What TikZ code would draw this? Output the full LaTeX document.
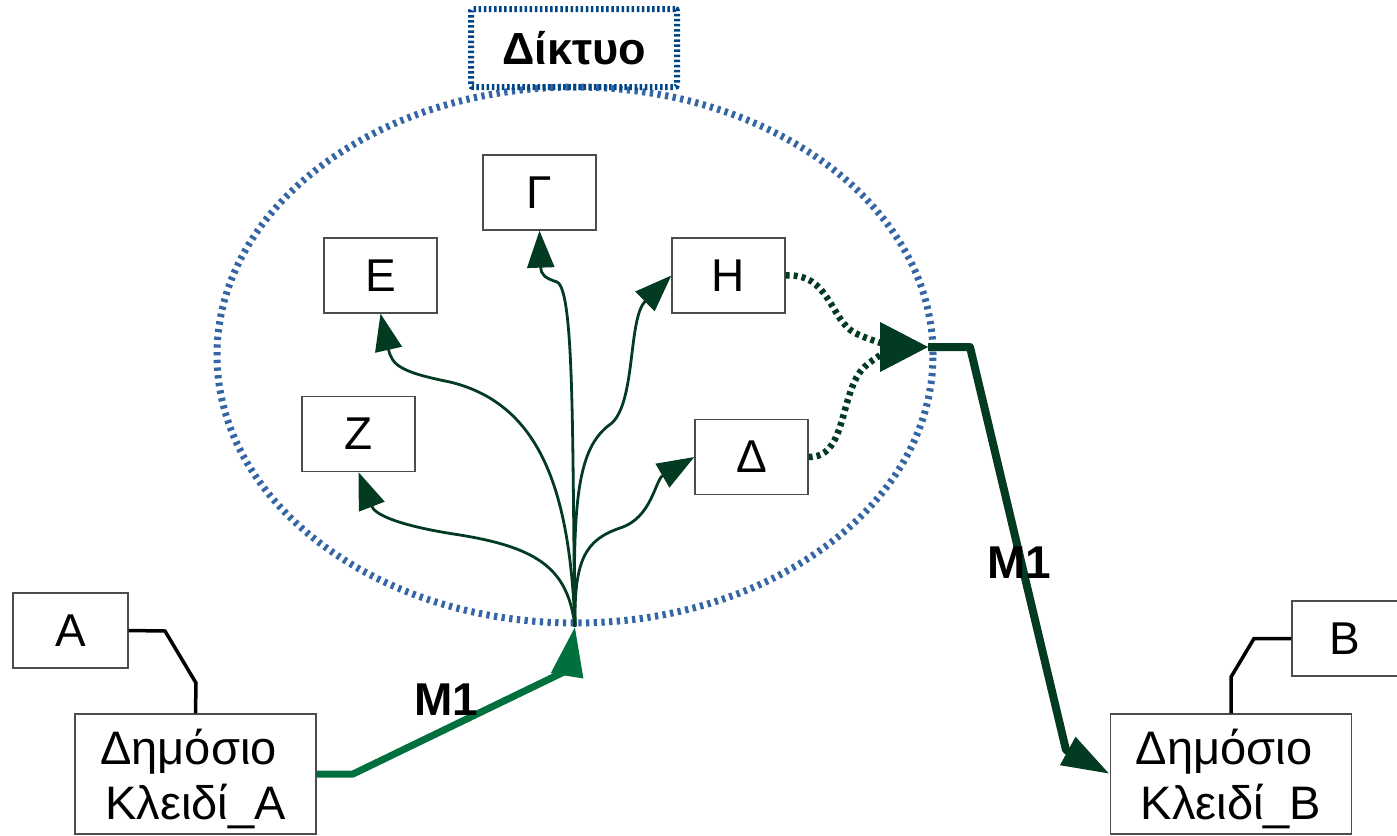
\documentclass[tikz,border=0pt]{standalone}
\usepackage{fontspec}
\setmainfont{Liberation Sans}
\usetikzlibrary{arrows.meta,shapes.geometric}

\definecolor{netblue}{HTML}{3465A4}
\definecolor{titleblue}{HTML}{004586}
\definecolor{msggreen}{HTML}{00703C}
\definecolor{pathgreen}{HTML}{033A22}

\tikzset{
  box/.style={draw=black!70, line width=1.3pt, minimum width=113pt, minimum height=75pt,
    inner sep=0pt, font=\fontsize{46}{52}\selectfont},
  keybox/.style={box, minimum width=241pt, minimum height=120pt, align=center,
    font=\fontsize{47}{55}\selectfont, text depth=0pt},
  link/.style={draw=black, line width=3.5pt},
  hop/.style={draw=pathgreen, line width=2.8pt, -{Triangle[length=37pt,width=27pt]}},
  relay/.style={draw=pathgreen, line width=6.5pt, dash pattern=on 4pt off 4pt,
    -{Triangle[length=48pt,width=48pt]}},
  sendA/.style={draw=msggreen, line width=7pt, line join=round,
    -{Triangle[length=50pt,width=31pt]}},
  sendB/.style={draw=pathgreen, line width=8pt, line join=round,
    -{Triangle[length=48pt,width=30pt]}},
  msglabel/.style={font=\bfseries\fontsize{46}{52}\selectfont, inner sep=0pt},
}

\begin{document}
\begin{tikzpicture}[x=1pt,y=-1pt]
\useasboundingbox (0,0) rectangle (1397,835);

% the network
\node[ellipse, draw=netblue, line width=7pt, dash pattern=on 3.3pt off 4.4pt,
      minimum width=716pt, minimum height=536pt, inner sep=0pt] (net) at (575,355) {};
\node[draw=titleblue, line width=6pt, dash pattern=on 2.5pt off 2.6pt, rounded corners=2pt,
      minimum width=206pt, minimum height=78pt, inner sep=0pt,
      font=\bfseries\fontsize{45}{50}\selectfont] (title) at (574,48) {Δίκτυο};

% nodes inside the network
\node[box] (G) at (539.5,192.5) {Γ};
\node[box] (E) at (380.5,275.5) {Ε};
\node[box] (H) at (728.5,275.5) {Η};
\node[box] (Z) at (358.5,434) {Ζ};
\node[box] (D) at (751.5,457) {Δ};

% end users and their public keys
\node[box, minimum width=115pt] (A) at (70.5,630.5) {Α};
\node[box, minimum width=106pt] (B) at (1345,638.5) {Β};
\node[keybox] (PKA) at (195.5,774) {Δημόσιο\kern14pt\\Κλειδί\_Α};
\node[keybox] (PKB) at (1231,774) {Δημόσιο\kern14pt\\Κλειδί\_Β};

\coordinate (root) at (net.south);
\coordinate (merge) at (928,347);

% ownership links
\draw[link] (A.east) -- (165,631) -- (196,683) -- (PKA.north);
\draw[link] (B.west) -- (1254,638.5) -- (1231,677) -- (PKB.north);

% flooding from the entry point
\draw[hop] (root) .. controls (572,450) and (575,290) .. (557,282)
               .. controls (545,278) and (541,275) .. (G.south);
\draw[hop] (root) .. controls (570,500) and (545,405) .. (450,382)
               .. controls (400,372) and (392,365) .. (E.south);
\draw[hop] (root) .. controls (572,490) and (580,445) .. (612,423)
               .. controls (636,400) and (628,318) .. (H.west);
\draw[hop] (root) .. controls (568,570) and (540,548) .. (460,535)
               .. controls (400,526) and (375,515) .. (Z.south);
\draw[hop] (root) .. controls (574,560) and (585,540) .. (620,528)
               .. controls (652,518) and (655,480) .. (D.west);

% relays towards the exit
\draw[relay] (H.east) .. controls (830,273) and (830,320) .. (855,333)
                  .. controls (870,341) and (900,347) .. (merge);
\draw[relay] (D.east) .. controls (845,458) and (840,400) .. (860,372)
                  .. controls (870,358) and (900,347) .. (merge);

% message M1 in and out
\draw[sendA] (PKA.east) -- (353,774) -- (568,670) -- (root);
\draw[sendB] (merge) -- (970,347) -- (1066,750) -- (PKB.west);

\node[msglabel] (m1a) at (446,700) {M1};
\node[msglabel] (m1b) at (1019,563) {M1};
\end{tikzpicture}
\end{document}
